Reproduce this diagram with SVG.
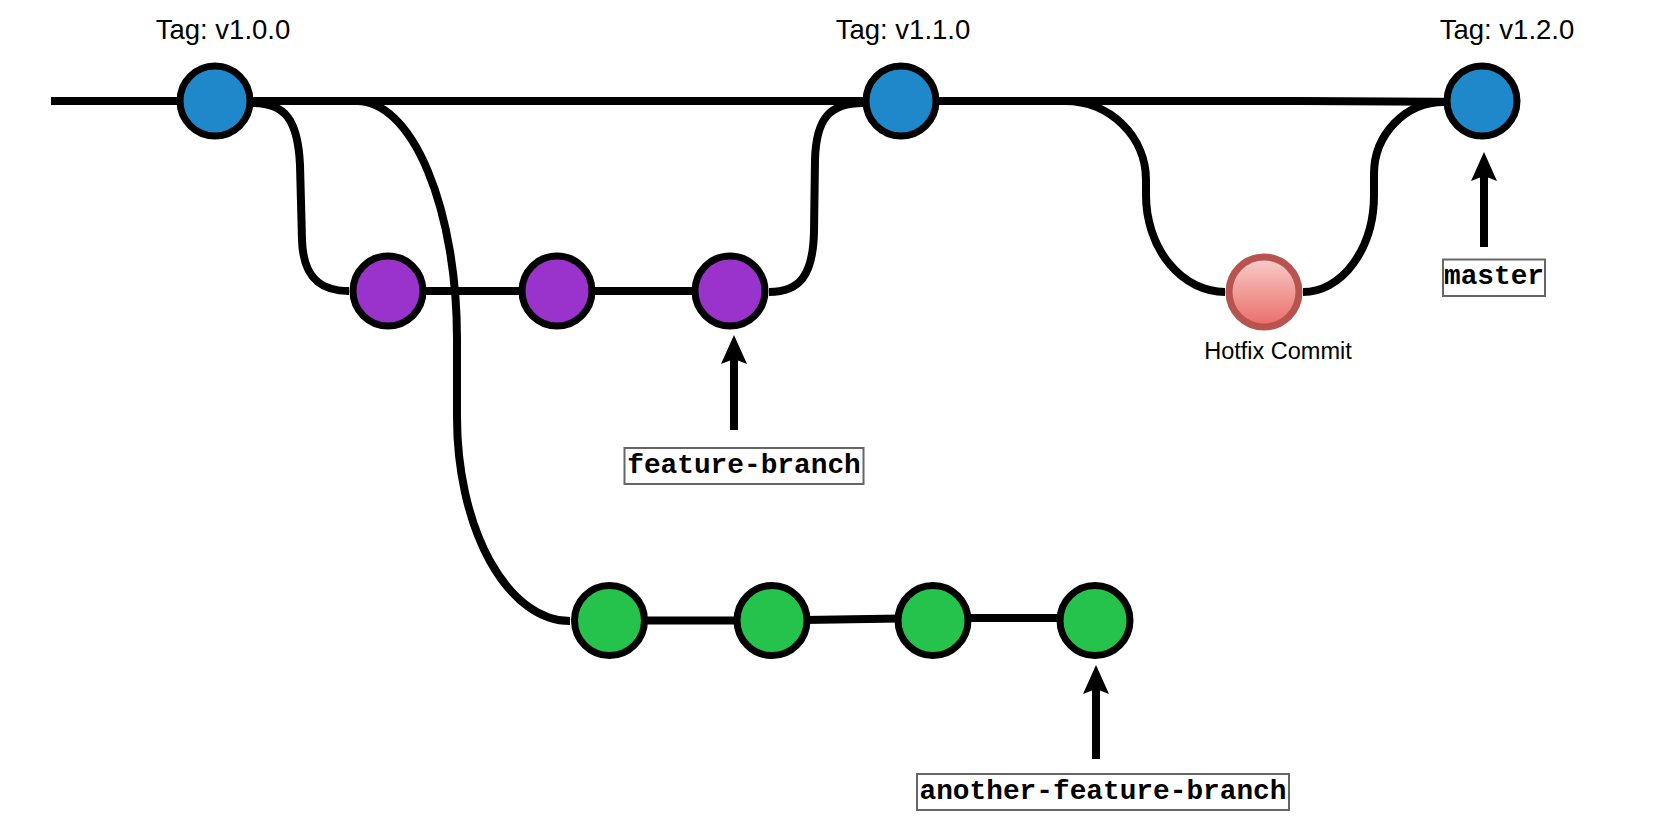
<svg xmlns="http://www.w3.org/2000/svg" width="1661" height="822" viewBox="0 0 1661 822">
  <style>
    .edge { fill: none; stroke: #000; stroke-width: 8; }
    .ptr { fill: none; stroke: #000; stroke-width: 8; marker-end: url(#head); }
    .commit { stroke: #000; stroke-width: 7; }
    .blue { fill: #1F88CA; }
    .purple { fill: #9933CC; }
    .green { fill: #25C24C; }
    .hot { fill: url(#hotGrad); stroke: #B85450; stroke-width: 7; }
    .tag { font-family: "Liberation Sans", Arial, sans-serif; font-size: 27.5px; fill: #000; text-anchor: middle; }
    .cap { font-family: "Liberation Sans", Arial, sans-serif; font-size: 23.5px; fill: #000; text-anchor: middle; }
    .refbox { fill: #fff; stroke: #666; stroke-width: 2; }
    .ref { font-family: "Liberation Mono", "Courier New", monospace; font-weight: bold; font-size: 27.8px; fill: #000; text-anchor: middle; }
  </style>
  <defs>
    <linearGradient id="hotGrad" x1="0" y1="0" x2="0" y2="1">
      <stop offset="0" stop-color="#F8CECC"/>
      <stop offset="1" stop-color="#EA6B66"/>
    </linearGradient>
    <marker id="head" viewBox="0 0 29 26" markerWidth="29" markerHeight="26" refX="7" refY="13" orient="auto" markerUnits="userSpaceOnUse">
      <path d="M0,0 L29,13 L0,26 L5,13 Z" fill="#000"/>
    </marker>
  </defs>

  <g id="connectors">
    <path class="edge" d="M51,101 L1300,101 L1482,102"/>
    <path class="edge" d="M253,103 C285,103 298,120 300,165 L302,240 C303,275 318,291 349,291"/>
    <path class="edge" d="M388,291 L730,291"/>
    <path class="edge" d="M357,101 A100 238 0 0 1 457,339 L457,417 A113 204 0 0 0 570,621"/>
    <path class="edge" d="M609,620.5 L772,620.5 L933,618 L1095,618"/>
    <path class="edge" d="M769,292 C800,292 813,275 814,232 L815,160 C816,118 830,103 863,103"/>
    <path class="edge" d="M1065,101 A81 79 0 0 1 1146,180 L1146,195 A79 97 0 0 0 1225,292"/>
    <path class="edge" d="M1303,292 A71 97 0 0 0 1374,195 L1374,174 A70 72 0 0 1 1444,102"/>
    <path class="ptr" d="M734,430 L734,357"/>
    <path class="ptr" d="M1096,759 L1096,687"/>
    <path class="ptr" d="M1484,247 L1484,174"/>
  </g>

  <g id="v1-0-0">
    <circle class="commit blue" cx="215" cy="101" r="35"/>
    <text class="tag" x="223" y="38.5">Tag: v1.0.0</text>
  </g>
  <g id="v1-1-0">
    <circle class="commit blue" cx="901" cy="101" r="35"/>
    <text class="tag" x="903" y="38.5">Tag: v1.1.0</text>
  </g>
  <g id="v1-2-0">
    <circle class="commit blue" cx="1482" cy="101" r="35"/>
    <text class="tag" x="1507" y="38.5">Tag: v1.2.0</text>
  </g>
  <g id="feature-1"><circle class="commit purple" cx="388" cy="291" r="35"/></g>
  <g id="feature-2"><circle class="commit purple" cx="557" cy="291" r="35"/></g>
  <g id="feature-3"><circle class="commit purple" cx="730" cy="291" r="35"/></g>
  <g id="another-1"><circle class="commit green" cx="609.5" cy="620.5" r="35"/></g>
  <g id="another-2"><circle class="commit green" cx="772" cy="620.5" r="35"/></g>
  <g id="another-3"><circle class="commit green" cx="933" cy="620.5" r="35"/></g>
  <g id="another-4"><circle class="commit green" cx="1095" cy="620.5" r="35"/></g>
  <g id="hotfix">
    <circle class="hot" cx="1264" cy="292" r="35"/>
    <text class="cap" x="1278" y="359">Hotfix Commit</text>
  </g>
  <g id="ref-feature-branch">
    <rect class="refbox" x="624.5" y="448" width="239" height="36"/>
    <text class="ref" x="744" y="472.5">feature-branch</text>
  </g>
  <g id="ref-another-feature-branch">
    <rect class="refbox" x="917" y="774" width="372" height="36"/>
    <text class="ref" x="1103" y="798.5">another-feature-branch</text>
  </g>
  <g id="ref-master">
    <rect class="refbox" x="1443" y="259.5" width="102" height="36.5"/>
    <text class="ref" x="1494" y="284">master</text>
  </g>
</svg>
